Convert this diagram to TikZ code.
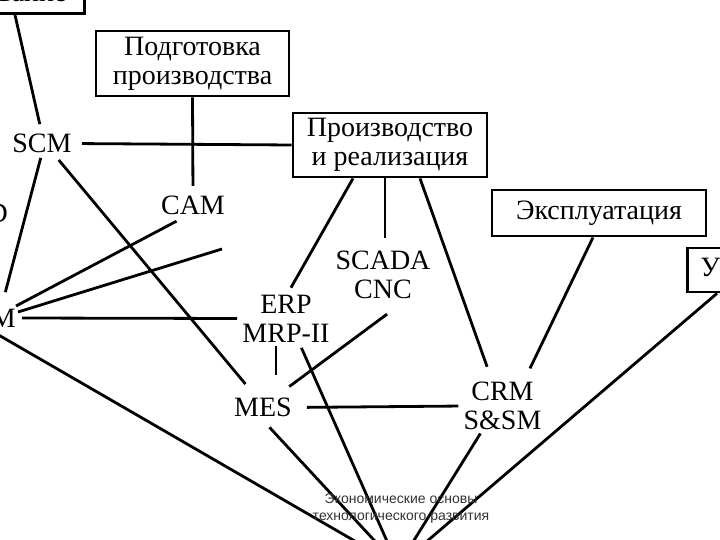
\documentclass[tikz,border=0pt]{standalone}
\usepackage{fontspec}
\setmainfont{Liberation Serif}
\newfontfamily\footerfamily{Liberation Sans}
\newcommand\sysfont{\fontsize{28}{29}\selectfont}
\newcommand\footfont{\footerfamily\fontsize{14}{17}\selectfont}
\tikzset{
	stagebox/.style={draw, line width=2.8pt, inner sep=0pt, align=center, font=\sysfont},
	sysname/.style={inner sep=0pt, align=center, font=\sysfont},
	link/.style={line width=2.8pt},
}
\begin{document}
\begin{tikzpicture}[x=1pt,y=-1pt]
	\useasboundingbox (0,0) rectangle (720,540);
	\clip (0,0) rectangle (720,540);
	\fill[white] (0,0) rectangle (720,540);
	\node[stagebox, anchor=south east, inner xsep=18pt, inner ysep=12pt, text height=18pt, text depth=0pt] (design) at (86,15) {Проектирование};
	\node[stagebox, minimum width=193pt, minimum height=65pt] (prep) at (192.5,63.5) {Подготовка\\производства};
	\node[stagebox, minimum width=194pt, minimum height=64pt] (prod) at (390,145) {Производство\\и реализация};
	\node[stagebox, minimum width=214pt, minimum height=46pt] (oper) at (599,213) {Эксплуатация};
	\node[stagebox, anchor=west, inner xsep=13pt, minimum height=44pt] (disp) at (686,270) {Утилизация};
	\node[sysname] (scm) at (42,143.5) {SCM};
	\node[sysname] (cam) at (193,205.5) {CAM};
	\node[sysname, anchor=east] (cad) at (8,213) {CAD};
	\node[sysname, anchor=east] (pdm) at (16,318) {PDM};
	\node[sysname] (scada) at (383,274.5) {SCADA\\CNC};
	\node[sysname] (erp) at (286,318.5) {ERP\\MRP-II};
	\node[sysname] (mes) at (263,407.5) {MES};
	\node[sysname] (crm) at (502.5,406) {CRM\\S\&SM};
	\coordinate (loose) at (222,249);
	\coordinate (base) at (398,566);
	\draw[link, shorten >=10pt] ([xshift=-71pt]design.south east) -- (scm.north);
	\draw[link, shorten <=10pt] (scm.east) -- (prod.west);
	\draw[link, shorten >=10pt] (prep.south) -- (cam.north);
	\draw[link, shorten <=9pt, shorten >=18pt] ([xshift=11pt]scm.south) -- ([xshift=-6pt]mes.north);
	\draw[link, shorten <=5pt, shorten >=17pt] (scm.south) -- ([xshift=-15pt]pdm.north east);
	\draw[link, shorten >=13pt] ([yshift=12pt]pdm.east) -- ([xshift=-5pt]cam.south);
	\draw[link] ([shift={(2pt,6pt)}]pdm.east) -- (loose);
	\draw[link, shorten <=6pt, shorten >=5pt] (pdm.east) -- (erp.west);
	\draw[link, shorten <=4pt] (pdm.south) -- (base);
	\draw[link, shorten >=8pt] ([xshift=-37pt]prod.south) -- ([xshift=1pt]erp.north);
	\draw[link, shorten >=12pt] ([xshift=-5pt]prod.south) -- ([xshift=2pt]scada.north);
	\draw[link, shorten >=16pt] ([xshift=30pt]prod.south) -- ([xshift=-10pt]crm.north);
	\draw[link, shorten >=15pt] ([xshift=-6pt]oper.south) -- ([xshift=21pt]crm.north);
	\draw[link] ([xshift=31pt]disp.south west) -- (base);
	\draw[link, shorten <=4pt, shorten >=23pt] ([xshift=-10pt]erp.south) -- ([xshift=13pt]mes.north);
	\draw[link, shorten <=26pt, shorten >=19pt] ([xshift=25pt]scada.south) -- ([xshift=11pt]mes.north);
	\draw[link, shorten <=6pt] ([xshift=13pt]erp.south) -- (base);
	\draw[link, shorten <=15pt, shorten >=5pt] (mes.east) -- (crm.west);
	\draw[link, shorten <=14pt] ([xshift=-3pt]mes.south) -- (base);
	\draw[link, shorten <=4pt] ([xshift=-20pt]crm.south) -- (base);
	\node[font=\footfont, align=center, text=black!80, inner sep=0pt] (footer) at (401,508.5) {Экономические основы\\технологического развития};
\end{tikzpicture}
\end{document}
